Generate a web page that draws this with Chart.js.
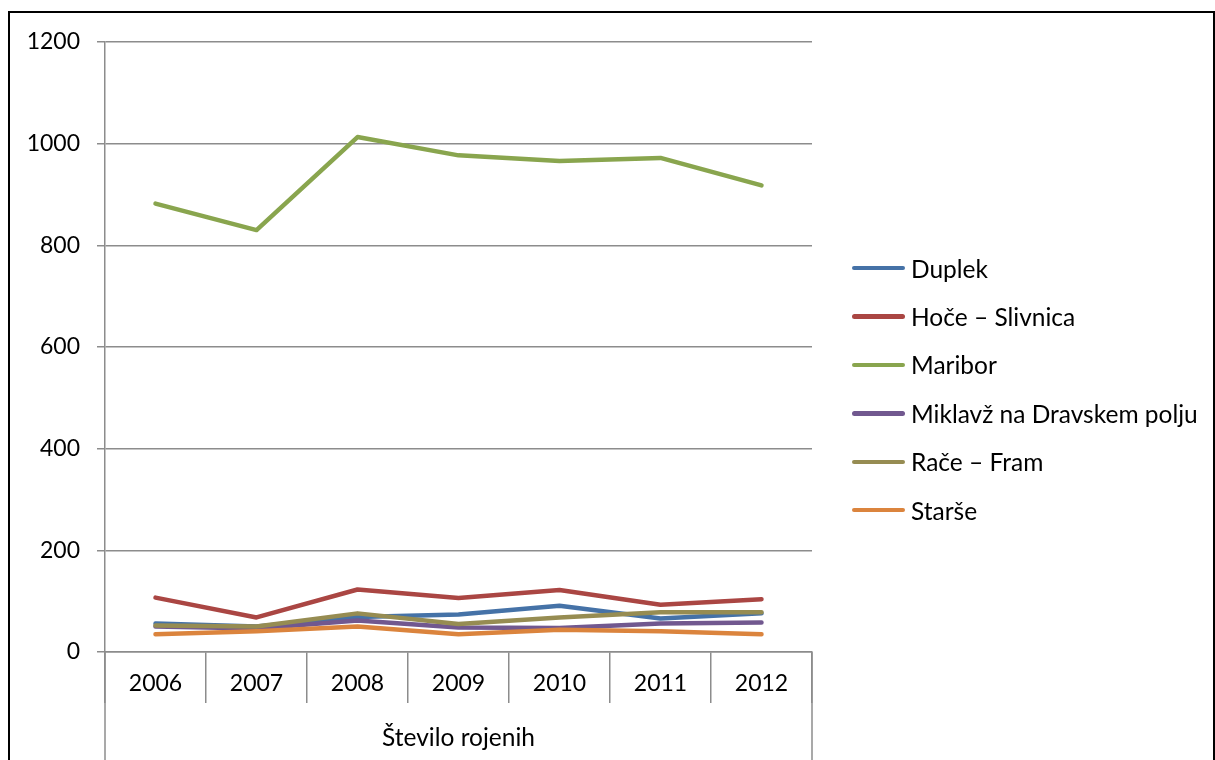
<!DOCTYPE html>
<html lang="sl">
<head>
    <meta charset="UTF-8">
    <title>Število rojenih</title>
    <style>
        body {
            margin: 0;
            padding: 0;
            width: 1215px;
            height: 760px;
            overflow: hidden;
            background: #fff;
            font-family: 'Lato', 'Open Sans', sans-serif;
        }
        .frame {
            position: absolute;
            left: 8px;
            top: 11px;
            width: 1203px;
            height: 780px;
            border: 2px solid #000;
        }
        .chart-box {
            position: absolute;
            left: 0;
            top: 0;
            width: 1215px;
            height: 760px;
        }
        #legend {
            position: absolute;
            left: 852px;
            top: 244px;
            margin: 0;
            padding: 0;
            list-style: none;
        }
        #legend li {
            display: flex;
            align-items: center;
            height: 48.4px;
            font-size: 24.5px;
            color: #000;
            white-space: nowrap;
        }
        #legend .swatch {
            display: inline-block;
            width: 53px;
            height: 4.5px;
            border-radius: 3px;
            margin-right: 6px;
        }
    </style>
    <script src="https://cdn.jsdelivr.net/npm/chart.js"></script>
</head>
<body>
    <div class="frame"></div>
    <div class="chart-box">
        <canvas id="births"></canvas>
    </div>
    <ul id="legend"></ul>
    <script>
        const years = ['2006', '2007', '2008', '2009', '2010', '2011', '2012'];
        const seriesNames = ['Duplek', 'Hoče – Slivnica', 'Maribor', 'Miklavž na Dravskem polju', 'Rače – Fram', 'Starše'];
        const duplek = [56, 50, 69, 74, 91, 66, 76];
        const hoceSlivnica = [107, 68, 123, 106, 122, 93, 104];
        const maribor = [882, 830, 1013, 977, 966, 972, 918];
        const miklavz = [50, 46, 62, 48, 47, 56, 58];
        const raceFram = [52, 50, 76, 55, 68, 78, 78];
        const starse = [35, 41, 50, 35, 44, 41, 35];
        const yTicks = [0, 200, 400, 600, 800, 1000, 1200];
        const axisTitle = 'Število rojenih';

        const seriesData = [duplek, hoceSlivnica, maribor, miklavz, raceFram, starse];
        const colors = ['#4572a7', '#aa4643', '#89a54e', '#71588f', '#968c52', '#db843d'];
        const gridColor = '#8c8c8c';
        const tickFont = { family: 'Lato', size: 23 };
        const titleFont = { family: 'Lato', size: 24.5 };

        // later series are drawn on top, like in the original spreadsheet chart
        const datasets = seriesNames.map((name, i) => ({
            label: name,
            data: seriesData[i],
            borderColor: colors[i],
            backgroundColor: colors[i],
            borderWidth: 4.5,
            tension: 0,
            pointRadius: 0,
            borderCapStyle: 'round',
            borderJoinStyle: 'round',
            order: seriesNames.length - i
        }));

        // long outer lines of the category box under the axis
        const outerLines = {
            id: 'outerLines',
            afterDraw(chart) {
                const c = chart.ctx;
                const area = chart.chartArea;
                c.save();
                c.strokeStyle = gridColor;
                c.lineWidth = 1.5;
                [area.left, area.right].forEach(x => {
                    c.beginPath();
                    c.moveTo(x, area.bottom);
                    c.lineTo(x, chart.height);
                    c.stroke();
                });
                c.restore();
            }
        };

        const chart = new Chart(document.getElementById('births'), {
            type: 'line',
            data: { labels: years, datasets: datasets },
            options: {
                responsive: true,
                maintainAspectRatio: false,
                animation: false,
                layout: { padding: { top: 42, right: 403, bottom: 0, left: 0 } },
                plugins: {
                    legend: { display: false },
                    tooltip: { enabled: false }
                },
                scales: {
                    x: {
                        type: 'category',
                        offset: true,
                        afterFit: scale => { scale.height = 108; },
                        grid: {
                            offset: true,
                            drawOnChartArea: false,
                            tickLength: 51,
                            color: gridColor,
                            lineWidth: 1.5
                        },
                        border: { color: gridColor, width: 1.5 },
                        ticks: { font: tickFont, color: '#000', padding: -33, maxRotation: 0 },
                        title: {
                            display: true,
                            text: axisTitle,
                            font: titleFont,
                            color: '#000',
                            padding: { top: 0, bottom: 7 }
                        }
                    },
                    y: {
                        min: 0,
                        max: 1200,
                        afterFit: scale => { scale.width = 105; },
                        afterBuildTicks: scale => {
                            scale.ticks = yTicks.map(v => ({ value: v }));
                        },
                        grid: { color: gridColor, lineWidth: 1.5, tickLength: 8 },
                        border: { color: gridColor, width: 1.5 },
                        ticks: {
                            font: tickFont,
                            color: '#000',
                            padding: 17,
                            callback: value => String(value)
                        }
                    }
                }
            },
            plugins: [outerLines]
        });

        // legend in series order, built from the chart's datasets
        const legend = document.getElementById('legend');
        chart.data.datasets.forEach(ds => {
            const li = document.createElement('li');
            const sw = document.createElement('span');
            sw.className = 'swatch';
            sw.style.background = ds.borderColor;
            li.appendChild(sw);
            li.appendChild(document.createTextNode(ds.label));
            legend.appendChild(li);
        });
    </script>
</body>
</html>
